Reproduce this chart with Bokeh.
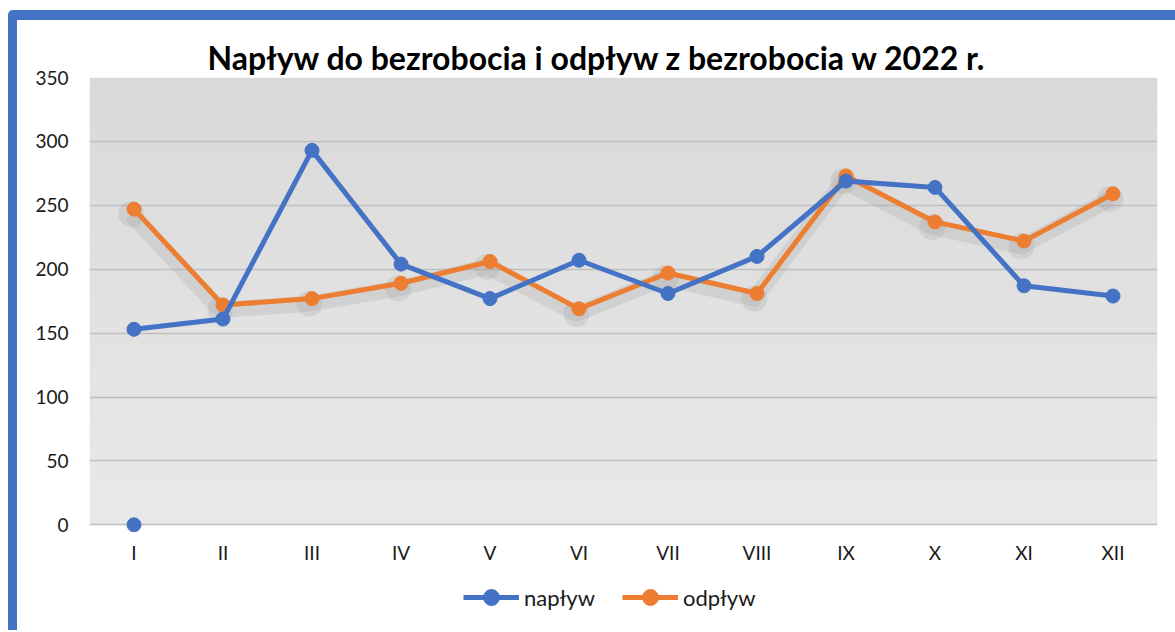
from bokeh.plotting import figure
from bokeh.models import (ColumnDataSource, BoxAnnotation, Legend, LegendItem, FixedTicker,
                          Title, Range1d, Div, Spacer)
from bokeh.layouts import column, row
from bokeh.transform import dodge
from bokeh.embed import file_html
from bokeh.resources import INLINE

months = ["I", "II", "III", "IV", "V", "VI", "VII", "VIII", "IX", "X", "XI", "XII"]
naplyw = [153, 161, 293, 204, 177, 207, 181, 210, 269, 264, 187, 179]
odplyw = [247, 172, 177, 189, 206, 169, 197, 181, 273, 237, 222, 259]
extra_month = ["I"]
extra_value = [0]
y_ticks = [0, 50, 100, 150, 200, 250, 300, 350]
series_labels = ["napływ", "odpływ"]

FONT = "Lato"
BLUE = "#4472C4"
ORANGE = "#ED7D31"

src = ColumnDataSource(dict(m=months, n=naplyw, o=odplyw,
                            os=[v - 4 for v in odplyw]))

p = figure(x_range=months, y_range=Range1d(-6, 350), width=1150, height=550,
           output_backend="svg", toolbar_location=None,
           min_border_left=72, min_border_right=10, min_border_top=57, min_border_bottom=38)

p.background_fill_color = "white"
p.border_fill_color = "white"
p.outline_line_color = None

# gradient background
n_bands = 40
top = (0xd9, 0xd9, 0xd9)
bot = (0xe9, 0xe9, 0xe9)
for i in range(n_bands):
    t = i / (n_bands - 1)
    c = tuple(int(round(top[k] + (bot[k] - top[k]) * t)) for k in range(3))
    hi = 350 - 350 * i / n_bands
    lo = max(0, 350 - 350 * (i + 1) / n_bands - 3)
    p.add_layout(BoxAnnotation(bottom=lo, top=hi, fill_color="#%02x%02x%02x" % c,
                               fill_alpha=1, line_color=None, level="image"))

p.title = Title(text="Napływ do bezrobocia i odpływ z bezrobocia w 2022 r.",
                text_font=FONT, text_font_size="32px", text_font_style="bold",
                align="left", offset=118, standoff=2, text_color="black")

p.xgrid.grid_line_color = None
p.ygrid.grid_line_color = "#bfbfbf"
p.ygrid.grid_line_width = 1.3
p.yaxis.ticker = FixedTicker(ticks=y_ticks)

for ax in (p.xaxis, p.yaxis):
    ax.axis_line_color = None
    ax.major_tick_line_color = None
    ax.minor_tick_line_color = None
    ax.major_label_text_font = FONT
    ax.major_label_text_font_size = "19px"
    ax.major_label_text_color = "#1a1a1a"
p.xaxis.major_label_standoff = 2
p.yaxis.major_label_standoff = 15

# shadow for odplyw
xs = dodge("m", -0.03, range=p.x_range)
p.line(x=xs, y="os", source=src, line_color="#9a9a9a", line_width=16, line_alpha=0.22, line_join="round")
p.scatter(x=xs, y="os", source=src, size=26, fill_color="#9a9a9a", fill_alpha=0.22, line_color=None)

p.line(x="m", y="o", source=src, line_color=ORANGE, line_width=5)
p.scatter(x="m", y="o", source=src, size=14, fill_color=ORANGE, line_color=ORANGE)
p.line(x="m", y="n", source=src, line_color=BLUE, line_width=5)
p.scatter(x="m", y="n", source=src, size=14, fill_color=BLUE, line_color=BLUE)
p.scatter(x=extra_month, y=extra_value, size=14, fill_color=BLUE, line_color=BLUE)

# legend strip: a small figure whose view holds no data, so only the legend shows
lg = figure(width=1150, height=60, output_backend="svg", toolbar_location=None,
            x_axis_type=None, y_axis_type=None, x_range=p.x_range, y_range=Range1d(1000, 1001),
            min_border=0)
lg.outline_line_color = None
lg.background_fill_color = "white"
lg.border_fill_color = "white"
lg.grid.grid_line_color = None
bl = lg.line(x="m", y="n", source=src, line_color=BLUE, line_width=5)
bs = lg.scatter(x="m", y="n", source=src, size=15, fill_color=BLUE, line_color=BLUE)
ol = lg.line(x="m", y="o", source=src, line_color=ORANGE, line_width=5)
os_ = lg.scatter(x="m", y="o", source=src, size=15, fill_color=ORANGE, line_color=ORANGE)
legend = Legend(items=[LegendItem(label=series_labels[0], renderers=[bl, bs]),
                       LegendItem(label=series_labels[1], renderers=[ol, os_])],
                orientation="horizontal", location=(374, 13),
                label_text_font=FONT, label_text_font_size="22px", label_text_color="#1a1a1a",
                glyph_width=56, glyph_height=40, label_standoff=5, spacing=27,
                border_line_color=None, background_fill_alpha=0, padding=0, margin=0)
lg.add_layout(legend, "center")

top_strip = Div(width=1167, height=10, margin=0,
                styles={"background-color": BLUE, "border-top-left-radius": "5px"})
left_strip = Div(width=9, height=610, margin=0, styles={"background-color": BLUE})
layout = column(Spacer(height=10),
                row(Spacer(width=8), top_strip),
                row(Spacer(width=8), left_strip, column(p, lg)))

open("out.html", "w").write(file_html(layout, INLINE))
